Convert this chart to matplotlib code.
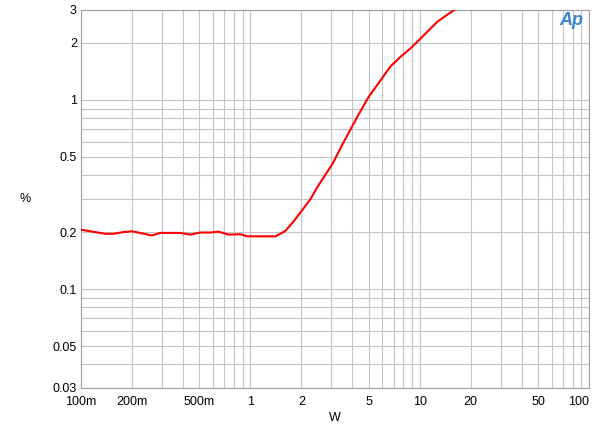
import matplotlib
matplotlib.use('Agg')
import matplotlib.pyplot as plt
from matplotlib.ticker import FixedLocator, NullFormatter, LogLocator

plt.rcParams['font.family'] = ['Liberation Sans', 'DejaVu Sans']

# THD+N (%) vs output power (W)
power_w = [0.1, 0.139, 0.155, 0.178, 0.2, 0.223, 0.262, 0.293, 0.385, 0.442, 0.506,
           0.58, 0.649, 0.745, 0.872, 0.956, 1.41, 1.61, 1.8, 2.02, 2.27, 2.49,
           3.06, 3.56, 4.28, 5.0, 5.87, 6.7, 7.7, 8.8, 10.1, 12.7, 16.5]
thd_pct = [0.206, 0.196, 0.196, 0.2, 0.202, 0.198, 0.192, 0.198, 0.198, 0.194, 0.199,
           0.199, 0.201, 0.194, 0.195, 0.19, 0.19, 0.203, 0.228, 0.261, 0.3, 0.347,
           0.461, 0.6, 0.815, 1.04, 1.27, 1.5, 1.69, 1.87, 2.11, 2.59, 3.05]

x_ticks = [0.1, 0.2, 0.5, 1, 2, 5, 10, 20, 50, 100]
x_labels = ['100m', '200m', '500m', '1', '2', '5', '10', '20', '50', '100']
y_ticks = [0.03, 0.05, 0.1, 0.2, 0.5, 1, 2, 3]
y_labels = ['0.03', '0.05', '0.1', '0.2', '0.5', '1', '2', '3']

fig = plt.figure(figsize=(6, 4.29), dpi=100)
ax = fig.add_axes([0.135, 0.0956, 0.847, 0.882])

ax.plot(power_w, thd_pct, color='#ff0000', lw=1.5, zorder=3)

ax.set_xscale('log')
ax.set_yscale('log')
ax.set_xlim(0.1, 100)
ax.set_ylim(0.03, 3)

ax.xaxis.set_major_locator(FixedLocator(x_ticks))
ax.set_xticklabels(x_labels)
ax.xaxis.set_minor_locator(LogLocator(base=10, subs=range(2, 10)))
ax.xaxis.set_minor_formatter(NullFormatter())
ax.yaxis.set_major_locator(FixedLocator(y_ticks))
ax.set_yticklabels(y_labels)
ax.yaxis.set_minor_locator(LogLocator(base=10, subs=range(1, 10)))
ax.yaxis.set_minor_formatter(NullFormatter())

ax.get_xticklabels()[-1].set_horizontalalignment('right')

ax.grid(True, which='both', color='#c4c4c4', lw=0.8)
ax.tick_params(which='both', length=0, labelsize=9, colors='black')
ax.tick_params(axis='x', pad=6)
ax.tick_params(axis='y', pad=3)
for s in ax.spines.values():
    s.set_color('#a0a0a0')
    s.set_linewidth(0.8)

ax.set_xlabel('W', fontsize=9, labelpad=3)
ax.set_ylabel('%', fontsize=9, rotation=0, labelpad=20, va='center')

fig.text(0.953, 0.952, 'Ap', color='#3a86c8', fontsize=13, fontstyle='italic',
         fontweight='bold', ha='center', va='center')

fig.savefig('out.png', dpi=100)
